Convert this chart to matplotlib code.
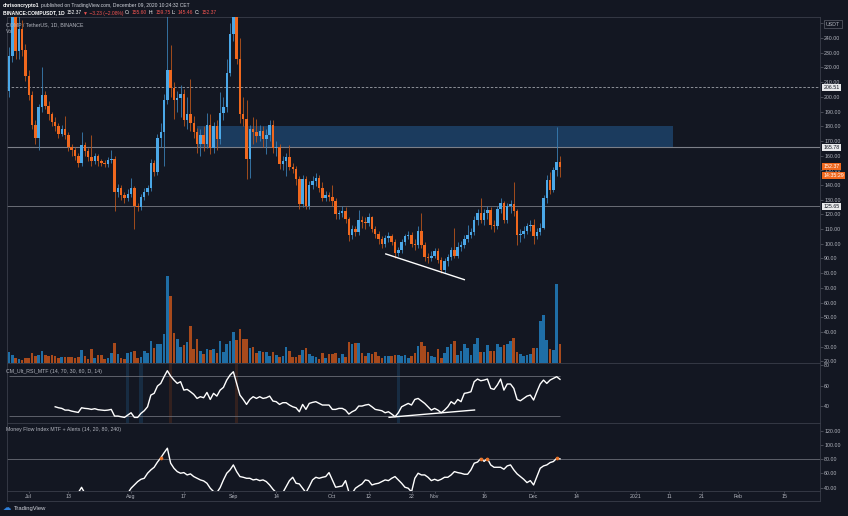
import numpy as np
import matplotlib
matplotlib.use("Agg")
import matplotlib.pyplot as plt
from matplotlib.patches import Rectangle
from matplotlib.transforms import blended_transform_factory

plt.rcParams['font.family'] = ['Liberation Sans', 'DejaVu Sans']

# -----------------------------
# DATA (COMP/USDT daily, Jun 25 - Dec 9 2020)
# -----------------------------
first_open = 204.0

close = [228, 262, 231, 246, 232, 214, 201, 181, 172, 193,
         201, 194, 188, 183, 180, 175, 178, 174, 166, 164,
         160, 155, 167, 163, 159, 156, 160, 156, 155, 154,
         157, 158, 135, 138, 133, 131, 134, 138, 126, 125,
         132, 135, 138, 155, 149, 172, 176, 198, 218, 206,
         198, 199, 202, 184, 188, 182, 176, 168, 174, 168,
         181, 165, 180, 171, 189, 193, 216, 243, 262, 226,
         188, 185, 158, 178, 176, 173, 177, 171, 174, 181,
         165, 166, 154, 156, 159, 152, 151, 144, 127, 144,
         126, 140, 143, 145, 138, 131, 133, 132, 129, 120,
         121, 122, 117, 106, 110, 108, 116, 115, 114, 118,
         110, 107, 103, 100, 104, 105, 101, 93.5, 96, 101,
         105, 106, 100, 99, 109, 99, 91, 90, 92, 95,
         89, 82, 88, 91, 96, 92, 98, 99, 103, 106,
         108, 116, 121, 116, 121, 123, 113, 112, 124, 127.5,
         116, 126, 127, 122, 106, 107, 109, 112, 113, 105,
         108, 111, 131, 143.5, 136.6, 150, 155.6, 152.37]

high = [234, 275, 268, 256, 252, 236, 218, 204, 184, 195,
        220, 204, 197, 190, 186, 182, 181, 187, 176, 168,
        166, 162, 176, 169, 165, 174, 162, 161, 158, 157,
        159, 164, 160, 141, 140, 135, 137, 145, 139, 128,
        134, 138, 140, 158, 157, 175, 182, 202, 270, 235,
        210, 204, 208, 205, 200, 212, 187, 179, 178, 180,
        189, 188, 183, 184, 203, 200, 226, 250, 280, 265,
        240, 200, 198, 181, 186, 185, 181, 180, 178, 184,
        184, 170, 168, 160, 162, 167, 155, 153, 146, 147,
        146, 143, 146, 148, 147, 142, 136, 135, 140, 131,
        123, 126, 125, 118, 113, 112, 123, 119, 118, 121,
        119, 112, 109, 105, 106, 108, 107, 103, 98, 103,
        107, 109, 108, 103, 112, 121, 101, 94, 95, 97,
        97, 91, 90, 93, 98, 111, 101, 102, 106, 113,
        111, 119, 124, 131, 124, 126, 125, 116, 126, 131,
        129, 128, 130, 142, 124, 110, 112, 114, 116, 117,
        111, 114, 133, 147, 149, 152, 179.7, 159.75]

low = [200, 224, 226, 226, 228, 211, 198, 178, 168, 164,
       190, 192, 184, 180, 177, 172, 173, 171, 163, 160,
       157, 152, 153, 160, 156, 153, 154, 153, 153, 152,
       152, 155, 122, 132, 130, 128, 129, 132, 110, 122,
       123, 130, 133, 136, 146, 147, 166, 153, 195, 200,
       185, 190, 186, 180, 178, 177, 172, 162, 160, 163,
       165, 161, 162, 164, 168, 184, 190, 214, 238, 222,
       182, 180, 144, 145, 168, 169, 170, 166, 161, 170,
       162, 160, 151, 150, 146, 150, 148, 140, 124, 125,
       124, 124, 137, 139, 135, 129, 129, 129, 126, 117,
       117, 118, 114, 102, 103, 105, 106, 111, 110, 112,
       108, 104, 100, 97, 98, 101, 99, 90, 92, 94,
       99, 103, 98, 96, 97, 97, 88, 87, 88, 90,
       87, 80, 80, 85, 89, 90, 90, 95, 97, 101,
       104, 106, 113, 114, 113, 117, 110, 108, 110, 121,
       114, 114, 121, 119, 99, 101, 104, 107, 109, 100,
       103, 106, 110, 128, 134, 135, 146, 145.46]

volume = [11, 8, 5, 4, 3, 5, 5, 10, 7, 8,
          12, 8, 7, 8, 7, 5, 6, 6, 6, 6,
          5, 6, 13, 7, 4, 14, 5, 8, 8, 4,
          5, 10, 20, 9, 5, 4, 10, 11, 12, 5,
          6, 12, 10, 22, 15, 19, 19, 29, 87, 67,
          30, 24, 16, 18, 21, 37, 14, 24, 12, 9,
          14, 13, 14, 10, 22, 11, 19, 22, 31, 23,
          34, 24, 24, 15, 16, 10, 12, 11, 11, 7,
          11, 8, 6, 7, 16, 12, 6, 6, 8, 13,
          15, 9, 7, 6, 4, 10, 5, 9, 9, 10,
          5, 9, 6, 21, 19, 20, 20, 10, 7, 10,
          9, 11, 7, 5, 7, 7, 7, 8, 8, 7,
          8, 5, 7, 10, 17, 21, 17, 11, 7, 6,
          14, 5, 10, 16, 19, 22, 8, 12, 19, 15,
          8, 19, 25, 11, 11, 18, 12, 12, 19, 16,
          18, 19, 22, 25, 11, 9, 7, 8, 9, 15,
          15, 42, 48, 23, 14, 13, 79, 19]

nan = float('nan')
rsi = [nan] * 14 + [
    39.3, 38.3, 37.7, 36, 36, 35, 34.4, 33.7, 38.3, 37.7,
    37.4, 36.7, 37.4, 36.4, 36, 35.7, 36, 36.7, 30.1, 30.1,
    29.5, 28.8, 31.1, 33.4, 28.8, 28.8, 32.8, 35.4, 39.3, 50.8,
    52.5, 59.7, 62.3, 68.9, 74.8, 69.5, 65.6, 62.3, 64, 55.7,
    56.4, 54.1, 51.5, 47.5, 49.2, 48.2, 53.4, 46.5, 52.5, 49.8,
    55.7, 58.4, 65.6, 70.5, 73.8, 62.3, 50.8, 46.5, 41.6, 46.5,
    49.2, 47.5, 49.2, 47.5, 48.2, 49.8, 44.9, 44.3, 41.6, 43.3,
    43.3, 41, 39.3, 38.3, 34.4, 41.6, 36.7, 42.6, 43.6, 44.3,
    42.6, 41, 41, 41, 36.7, 36.7, 37.7, 37.7, 36, 32.1,
    34.4, 36, 40, 40, 41, 41.6, 39.3, 36.7, 36, 35.4,
    33.4, 34.4, 32.1, 29.5, 33.4, 39.3, 41, 42.6, 41, 46.5,
    47.5, 45, 42.6, 39.3, 36, 37.7, 36, 33.4, 36, 39.3,
    44.3, 42, 46.5, 44.3, 52.5, 53.1, 54.1, 64, 66.6, 64.9,
    65.6, 66.6, 57.4, 56.4, 60.7, 66.6, 55.7, 61.7, 61.7, 57.4,
    46.5, 45.2, 47.5, 49.8, 50.8, 45.9, 54.1, 61.7, 65.6, 62.3,
    65.6, 67.2, 68.9, 66.3]

mfi = [nan] * 14 + [
    30, 28, 27, 26, 25, 27, 29, 33, 40.5, 32,
    28, 27, 26, 25, 24, 26, 28, 30, 24, 22,
    23, 26, 32, 39.2, 43.8, 48.5, 51.8, 53.2, 60.3, 65,
    68.7, 76, 82, 89, 95.5, 74.4, 67.3, 62.6, 60.3, 61.2,
    57.9, 59.4, 55.6, 53.2, 50.9, 49.5, 46.2, 39.2, 34.5, 33,
    40.1, 50.9, 60.3, 65, 72, 62.6, 55.6, 54.6, 53.2, 53.2,
    50.9, 51.8, 49.9, 50.9, 48.5, 43.8, 37.8, 33, 32, 33,
    41.5, 49.9, 54.6, 46.2, 45.3, 39.2, 33, 41.5, 50.9, 54.6,
    53.2, 54.6, 55.6, 61.2, 50.9, 40.6, 41.5, 42.4, 49.9, 34,
    32, 39.2, 42.4, 45.3, 50.9, 49.9, 43.8, 45.3, 46.2, 48.5,
    50.9, 49.9, 53.2, 55.6, 50.9, 46.2, 40.6, 39.2, 34, 53.2,
    60.3, 57.9, 57.9, 54.6, 49.9, 51.8, 49.9, 51.8, 54.6, 54.6,
    57.9, 62.6, 61.2, 60.3, 58.9, 58.9, 65, 74.4, 76, 81,
    77, 81, 72, 68.7, 68.7, 68.7, 65.9, 70.6, 72, 65,
    59.4, 55.6, 51.8, 47.1, 49.9, 43.8, 55.6, 67.3, 70.6, 72,
    75.3, 76.8, 81.4, 80.5]

mfi_alert_bars = [46, 143, 145, 166]
rsi_os_bars = [36, 40, 118]
rsi_ob_bars = [49, 69]

levels = [206.51, 165.78, 125.65]
zone_bars = [57, 201.2]
zone_prices = [166, 180]
trend_price_bars = [114.2, 138]
trend_price_vals = [93.1, 75.6]
trend_rsi_bars = [115.2, 141.1]
trend_rsi_vals = [28.9, 36.1]

price_ticks = list(range(20, 260, 10))
date_bars = [6, 18, 37, 53, 68, 81, 98, 109, 122, 129, 144, 159, 172, 190, 200, 210, 221, 235]
date_labels = ["Jul", "13", "Aug", "17", "Sep", "14", "Oct", "12", "22", "Nov",
               "16", "Dec", "14", "2021", "11", "21", "Feb", "15"]

# header pieces: (text, colour, bold)
header_1 = [("chrisoncrypto1", 'white', True),
            ("published on TradingView.com, December 09, 2020 10:24:32 CET", '#d1d4dc', False)]
header_2 = [("BINANCE:COMPUSDT, 1D", 'white', True), ("152.37", 'white', False),
            ("\u25bc \u22123.23 (\u22122.08%)", '#ef5350', False),
            ("O:", 'white', False), ("155.60", '#ef5350', False),
            ("H:", 'white', False), ("159.75", '#ef5350', False),
            ("L:", 'white', False), ("145.46", '#ef5350', False),
            ("C:", 'white', False), ("152.37", '#ef5350', False)]

# -----------------------------
# STYLE
# -----------------------------
W, H = 848, 516
BG = '#131722'
UP, DN = '#4ba8e8', '#f0681e'
WICK_UP, WICK_DN = '#3a7fb3', '#b8541c'
VOL_UP, VOL_DN = '#1f6ea6', '#a84a1c'
TXT = '#b2b5be'
LINE = '#3a3e4a'
FS = 3.8


def box(l, t, r, b):
    # pixel box -> figure fraction
    return [l / W, 1 - b / H, (r - l) / W, (b - t) / H]


def ftext(x, y, s, **kw):
    kw.setdefault('fontsize', FS)
    kw.setdefault('color', TXT)
    return fig.text(x / W, 1 - y / H, s, va='center', **kw)


def chain(x, y, pieces, gap=2.0, size=FS):
    # lay text pieces left to right using their rendered widths
    r = fig.canvas.get_renderer()
    for s, c, bold in pieces:
        t = ftext(x, y, s, color=c, fontsize=size, fontweight='bold' if bold else 'normal',
                  family=['Liberation Sans', 'DejaVu Sans'])
        x = t.get_window_extent(r).x1 + gap


def style(a):
    a.set_facecolor(BG)
    for sp in a.spines.values():
        sp.set_color(LINE)
        sp.set_linewidth(0.6)
    a.set_xlim(-0.6, 245.8)
    a.set_xticks([])
    a.yaxis.tick_right()
    a.tick_params(axis='y', colors='#5d606b', labelcolor=TXT, labelsize=FS,
                  length=2, width=0.5, pad=1)


close = np.array(close, dtype=float)
high = np.array(high, dtype=float)
low = np.array(low, dtype=float)
volume = np.array(volume, dtype=float)
rsi = np.array(rsi, dtype=float)
mfi = np.array(mfi, dtype=float)
x = np.arange(len(close))
opens = np.r_[first_open, close[:-1]]
up = close >= opens

fig = plt.figure(figsize=(W / 100, H / 100), dpi=100, facecolor=BG)

# -----------------------------
# PRICE PANE
# -----------------------------
ax = fig.add_axes(box(7, 17, 820, 363))

axv = ax.twinx()
axv.bar(x, volume, width=0.8, color=np.where(up, VOL_UP, VOL_DN), zorder=1)
axv.set_ylim(0, 346)
axv.set_xlim(-0.6, 245.8)
axv.axis('off')

style(ax)  # after twinx, which moves ticks back to the left
ax.set_ylim(18.9, 254.3)
ax.set_yticks(price_ticks)
ax.set_yticklabels([f"{v:.2f}" for v in price_ticks])

ax.add_patch(Rectangle((zone_bars[0], zone_prices[0]), zone_bars[1] - zone_bars[0],
                       zone_prices[1] - zone_prices[0], facecolor='#1b3b5e', edgecolor='none', zorder=1))
ax.axhline(levels[0], color='#a0a3ab', lw=0.6, ls=(0, (3, 2)), zorder=2)
ax.axhline(levels[1], color='#7c7f88', lw=0.8, zorder=2)
ax.axhline(levels[2], color='#6a6d76', lw=0.7, zorder=2)

ax.vlines(x, low, high, colors=np.where(up, WICK_UP, WICK_DN), lw=0.6, zorder=3)
ax.bar(x, np.maximum(np.abs(close - opens), 0.6), bottom=np.minimum(opens, close),
       width=0.75, color=np.where(up, UP, DN), zorder=4)
ax.plot(trend_price_bars, trend_price_vals, color='white', lw=1.0, zorder=5)

yblend = blended_transform_factory(ax.transAxes, ax.transData)
for v in levels:
    ax.text(1.004, v, f"{v:.2f}", transform=yblend, fontsize=FS, color=BG, va='center',
            ha='left', clip_on=False, zorder=10,
            bbox=dict(boxstyle='square,pad=0.2', fc='#e8e9eb', ec='none'))
ax.text(1.004, close[-1], f"{close[-1]:.2f}", transform=yblend, fontsize=FS, color='white',
        va='center', ha='left', clip_on=False, zorder=10,
        bbox=dict(boxstyle='square,pad=0.2', fc=DN, ec='none'))
ax.annotate("14:35:29", xy=(1.004, close[-1]), xycoords=yblend, xytext=(0, -6.2),
            textcoords='offset points', fontsize=FS, color='white', va='center', ha='left',
            annotation_clip=False, zorder=10,
            bbox=dict(boxstyle='square,pad=0.2', fc=DN, ec='none'))

# -----------------------------
# RSI PANE
# -----------------------------
axr = fig.add_axes(box(7, 363, 820, 423))
style(axr)
axr.set_ylim(23.3, 82.4)
axr.set_yticks([40, 60, 80])
for b in rsi_os_bars:
    axr.axvspan(b - 0.5, b + 0.5, color='#172c42', lw=0, zorder=0)
for b in rsi_ob_bars:
    axr.axvspan(b - 0.5, b + 0.5, color='#33211f', lw=0, zorder=0)
axr.hlines([70, 30], 0, len(close) - 1, colors='#6a6d76', lw=0.6)
axr.plot(x, rsi, color='white', lw=1.0)
axr.plot(trend_rsi_bars, trend_rsi_vals, color='white', lw=1.0)

# -----------------------------
# MFI PANE
# -----------------------------
axm = fig.add_axes(box(7, 423, 820, 490.5))
style(axm)
axm.set_ylim(36, 131)
axm.set_yticks([40, 60, 80, 100, 120])
axm.set_yticklabels([f"{v:.2f}" for v in [40, 60, 80, 100, 120]])
axm.axhline(80, color='#6a6d76', lw=0.6)
axm.plot(x, mfi, color='white', lw=1.0)
axm.scatter(mfi_alert_bars, mfi[mfi_alert_bars], s=7, color='#e8732a', zorder=5, lw=0)

# -----------------------------
# TIME AXIS
# -----------------------------
axt = fig.add_axes(box(7, 490.5, 820, 500.5))
style(axt)
axt.set_ylim(0, 1)
axt.set_yticks([])
axt.set_xticks(date_bars)
axt.tick_params(axis='x', direction='in', length=1.5, width=0.5, colors='#5d606b',
                top=True, bottom=False, labelbottom=False)
for b, lab in zip(date_bars, date_labels):
    axt.text(b, 0.42, lab, ha='center', va='center', fontsize=FS, color=TXT)

# -----------------------------
# TEXT
# -----------------------------
chain(3, 5, header_1, gap=1.2, size=3.6)
chain(3, 13, header_2, gap=1.6, size=3.6)

ftext(6, 24.5, "COMP / TetherUS, 1D, BINANCE")
ftext(6, 31.5, "Vol")
ftext(6, 371, "CM_Ult_RSI_MTF (14, 70, 30, 60, D, 14)")
ftext(6, 429, "Money Flow Index MTF + Alerts (14, 20, 80, 240)")
ftext(826, 24, "USDT", color=TXT,
      bbox=dict(boxstyle='square,pad=0.3', fc=BG, ec='#5d606b', lw=0.5))

ftext(3, 508, "\u2601", color='#2e7fd8', fontsize=6, family='DejaVu Sans')
ftext(14, 508.5, "TradingView", color='#d1d4dc', fontsize=4.2)

fig.savefig("out.png", dpi=100, facecolor=BG)
